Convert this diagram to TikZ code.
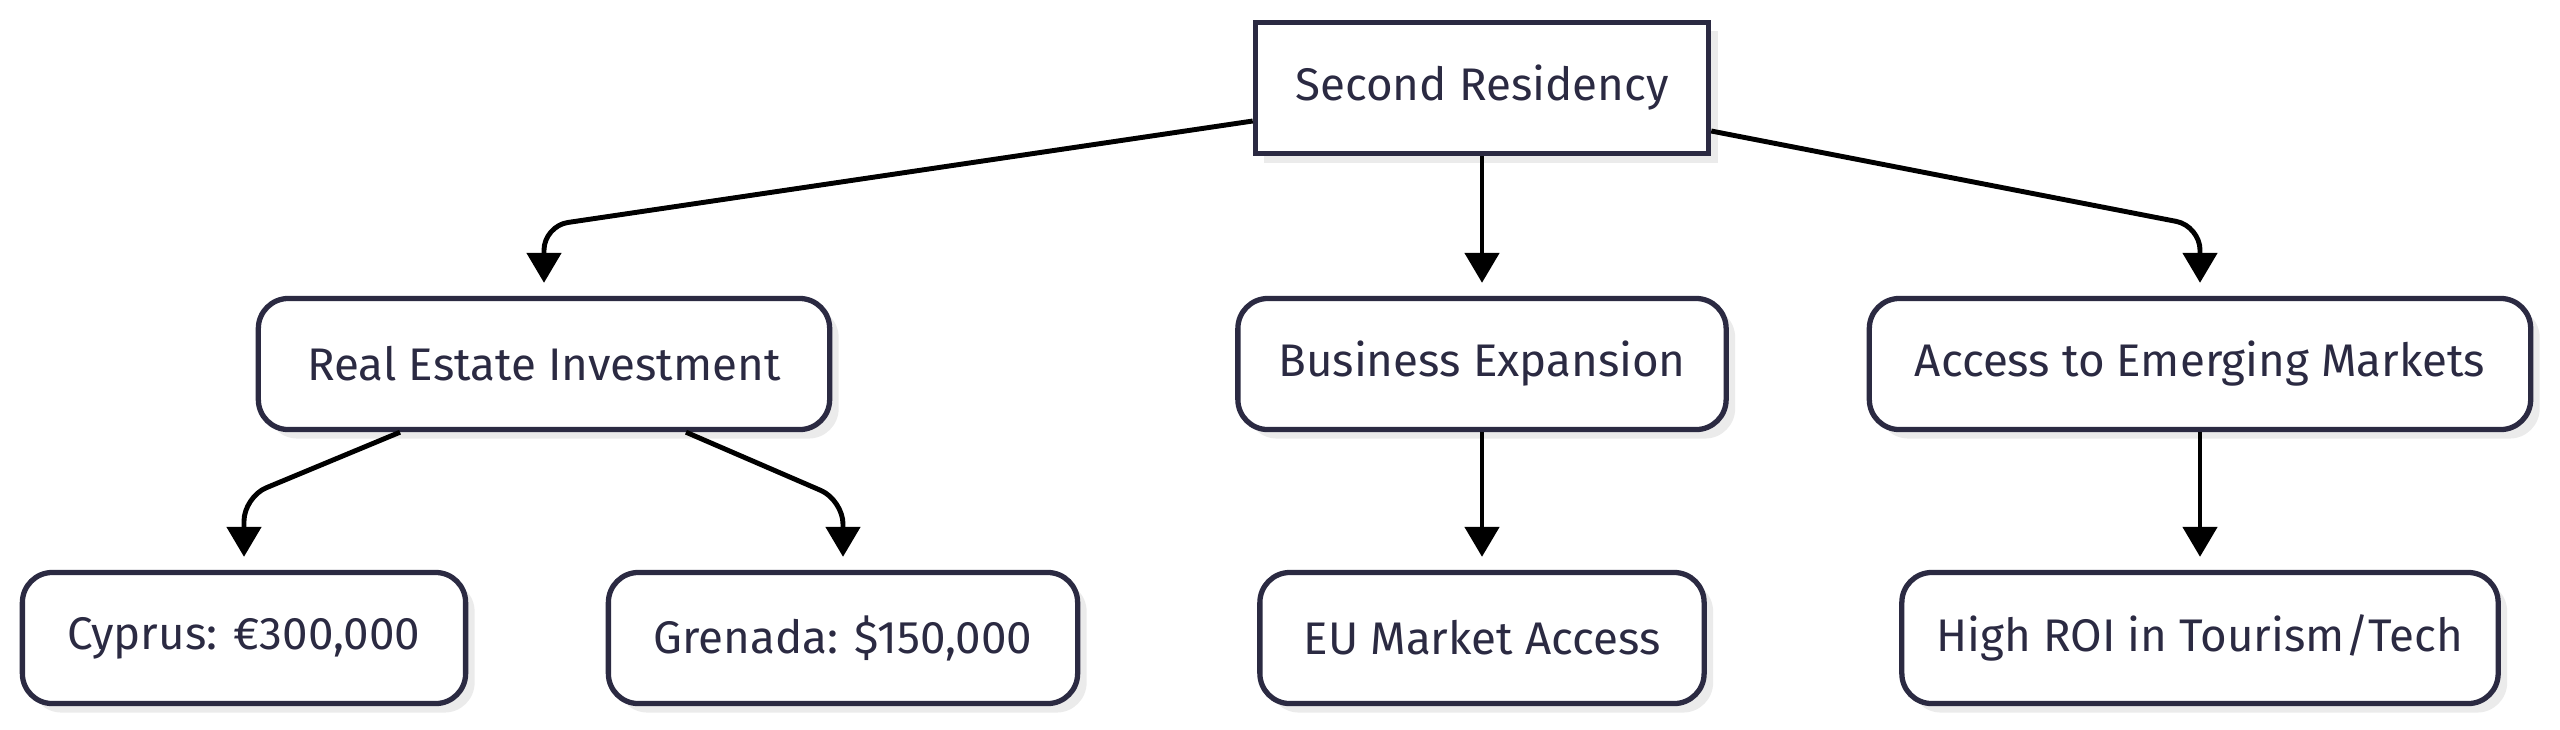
\documentclass[tikz,border=0pt]{standalone}
\usepackage{fontspec}
\setmainfont{Fira Sans}
\usetikzlibrary{arrows.meta,shadows,calc}
\definecolor{ink}{HTML}{2B2A42}
\definecolor{shade}{HTML}{EBEBEB}
\tikzset{
  box/.style={draw=ink, line width=1.5pt, fill=white, text=ink, font=\fontsize{13}{15}\selectfont,
    minimum height=1.31cm, inner sep=0pt,
    drop shadow={shadow xshift=0.09cm, shadow yshift=-0.09cm, fill=shade, opacity=1}},
  rbox/.style={box, rounded corners=0.3cm},
  conn/.style={line width=1.4pt, draw=black, -{Triangle[width=0.34cm,length=0.3cm]}, rounded corners=0.24cm, shorten >=0.13cm},
}
\begin{document}
\begin{tikzpicture}[x=0.01cm, y=-0.01cm]
\useasboundingbox (0,0) rectangle (2560,729);
\node[box, minimum width=4.53cm] (sr) at (1482,88) {Second Residency};
\node[rbox, minimum width=5.71cm] (rei) at (544,364) {Real Estate Investment};
\node[rbox, minimum width=4.88cm] (be) at (1482,364) {Business Expansion};
\node[rbox, minimum width=6.61cm] (aem) at (2200,364) {Access to Emerging Markets};
\node[rbox, minimum width=4.43cm] (cy) at (244,638) {Cyprus: €300,000};
\node[rbox, minimum width=4.69cm] (gr) at (843,638) {Grenada: \$150,000};
\node[rbox, minimum width=4.44cm] (eu) at (1482,638) {EU Market Access};
\node[rbox, minimum width=5.96cm] (roi) at (2200,638) {High ROI in Tourism/Tech};
% connectors
\coordinate (srl) at ($(sr.west)+(0,33)$);
\coordinate (srr) at ($(sr.east)+(0,43)$);
\draw[conn] (srl) -- (rei.north |- 0,226) -- (rei.north);
\draw[conn] (srr) -- (aem.north |- 0,226) -- (aem.north);
\draw[conn] (sr.south) -- (be.north);
\coordinate (reil) at ($(rei.south)+(-144,0)$);
\coordinate (reir) at ($(rei.south)+(142,0)$);
\draw[conn] (reil) -- (cy.north |- 0,497) -- (cy.north);
\draw[conn] (reir) -- (gr.north |- 0,500) -- (gr.north);
\draw[conn] (be.south) -- (eu.north);
\draw[conn] (aem.south) -- (roi.north);
\end{tikzpicture}
\end{document}
